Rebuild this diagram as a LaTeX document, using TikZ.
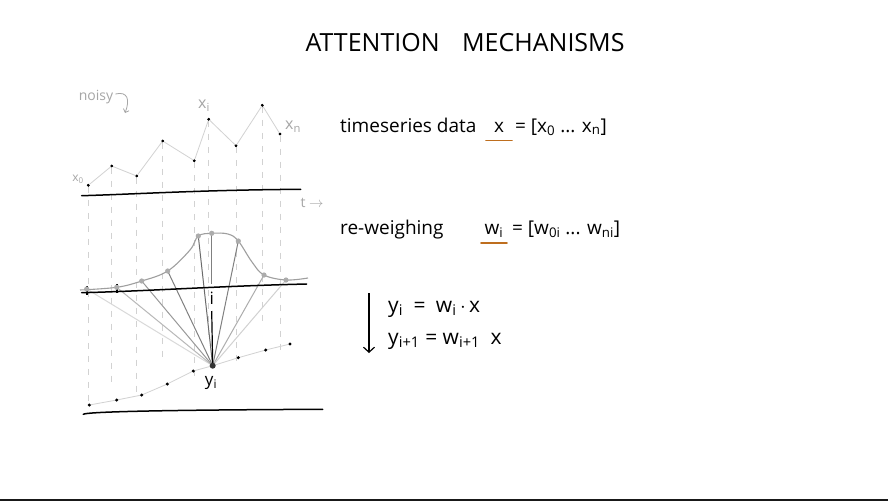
\documentclass[tikz,border=0pt]{standalone}
\usepackage{fontspec}
\setmainfont{Open Sans}
\usetikzlibrary{arrows.meta}
\definecolor{ulorange}{RGB}{190,110,30}
\newcommand{\sbs}[1]{\textsubscript{#1}}
\tikzset{
  dotb/.style={circle,fill=black,inner sep=0pt,minimum size=3.2pt},
  axisline/.style={line width=1.5pt,line cap=round},
  vdash/.style={gray!35,dashed,dash pattern=on 6pt off 7pt,line width=0.6pt},
  serline/.style={gray!35,line width=0.8pt},
  lbl/.style={font=\fontsize{19}{22}\selectfont,inner sep=0pt},
  glbl/.style={font=\fontsize{14}{16}\selectfont,text=gray!70,inner sep=0pt},
}
\begin{document}
\begin{tikzpicture}[x=1pt,y=-1pt]
\useasboundingbox (0,0) rectangle (888,501);
\fill[white] (0,0) rectangle (888,501);
\fill[black!90] (0,498.5) rectangle (888,501);

% title
\node[font=\fontsize{25}{29}\selectfont,inner sep=0pt] (title) at (465,43) {ATTENTION\hspace{0.9em}MECHANISMS};

% top series dots
\foreach \n/\x/\y in {0/88.3/185.3,1/111.7/166,2/136.7/176,3/162.7/141,4/194.3/160.7,5/208.7/119.3,6/236/145.7,7/262.3/105.3,8/280/134}
  \node[dotb,minimum size=2.8pt] (t\n) at (\x,\y) {};
% dashed verticals
\foreach \n in {0,...,8}
  \draw[vdash] (t\n) -- ++(0,222);
% series line
\draw[serline] (t0)--(t1)--(t2)--(t3)--(t4)--(t5)--(t6)--(t7)--(t8);
\foreach \n/\x/\y in {0/88.3/185.3,1/111.7/166,2/136.7/176,3/162.7/141,4/194.3/160.7,5/208.7/119.3,6/236/145.7,7/262.3/105.3,8/280/134}
  \fill (\x,\y) circle (1.4pt);

% top axis
\draw[axisline] (81.7,195.7) .. controls (140,194) and (200,190) .. (300.7,189.3);
\node[glbl] (tlab) at (312,203) {t $\rightarrow$};
\node[glbl,font=\fontsize{12}{14}\selectfont] (x0lab) at (78,179) {x\sbs{0}};
\node[glbl,font=\fontsize{16}{18}\selectfont] (xilab) at (204,106) {x\sbs{i}};
\node[glbl,font=\fontsize{16}{18}\selectfont] (xnlab) at (293,127) {x\sbs{n}};
\node[glbl,font=\fontsize{14}{16}\selectfont] (noisy) at (96,97) {noisy};
\coordinate (narrowend) at (125,113);
\draw[gray!70,line width=0.8pt,-{Straight Barb[length=3pt,width=6pt]}] (noisy.east) ++(2,-3) .. controls (128,91) and (130,100) .. (narrowend);

% bell curve
\draw[gray!75,line width=1.1pt] plot[smooth,tension=0.6] coordinates {(80,290) (116.7,287.3) (141.7,281) (167.7,271) (190,250) (198.3,236) (211.7,233.3) (228,234) (238.3,241) (252,262) (264,275) (286,280) (308,278)};

% weight points
\foreach \n/\x/\y in {0/86.7/289,1/116.7/287.3,2/141.7/281,3/167.7/271,4/198.3/236,5/211.7/233.3,6/238.3/241,7/264/275,8/286/280}
  \coordinate (w\n) at (\x,\y);

% bottom series
\foreach \n/\x/\y in {0/89.3/405,1/116.7/400,2/141.7/395,3/167.3/384,4/193.3/371,5/212.7/365.7,6/238.3/357.7,7/265.7/350,8/290/344}
  \coordinate (b\n) at (\x,\y);
\draw[gray!35,line width=0.8pt] (b0)--(b1)--(b2)--(b3)--(b4)--(b5)--(b6)--(b7)--(b8);

% weight lines to y_i
\foreach \n/\c in {0/15,1/28,2/40,3/50,4/58,6/50,7/32,8/18}
  \draw[black!\c,line width=1pt] (w\n) -- (b5);
\draw[black!50,line width=1pt] (w5) -- (211.7,284);
\node[lbl,font=\fontsize{17}{19}\selectfont] (ilab) at (211.7,298) {i};
\draw[line width=1.2pt] (211.7,311) -- (b5);

% middle axis
\draw[axisline] (81.7,292.7) .. controls (150,291) and (220,286) .. (306.7,284);
\draw[line width=1.2pt] (87,286) -- (87,295);
\draw[line width=1.2pt] (117,284) -- (117,293);

\foreach \n/\x/\y in {0/86.7/289,1/116.7/287.3,2/141.7/281,3/167.7/271,4/198.3/236,5/211.7/233.3,6/238.3/241,7/264/275,8/286/280}
  \fill[gray!65] (\x,\y) circle (2.6pt);

% bottom dots
\foreach \n/\x/\y in {0/89.3/405,1/116.7/400,2/141.7/395,3/167.3/384,4/193.3/371,6/238.3/357.7,7/265.7/350,8/290/344}
  \fill (\x,\y) circle (1.7pt);
\fill[black!80] (b5) circle (3pt);
\node[lbl,font=\fontsize{17}{19}\selectfont] (yilab) at (211,383) {y\sbs{i}};

% bottom axis
\draw[axisline] (83.3,414.3) .. controls (86,412) and (150,410) .. (322.7,409.3);

% right texts
\node[lbl,anchor=base west] (ts) at (340,132) {timeseries data};
\node[lbl,anchor=base] (xv) at (499,132) {x};
\node[lbl,anchor=base west] (xdef) at (515,132) {= [x\sbs{0} ... x\sbs{n}]};
\draw[ulorange,line width=1.8pt,line cap=round] (486,140.5) -- (512,140.5);

\node[lbl,anchor=base west] (rw) at (340,234) {re-weighing};
\node[lbl,anchor=base] (wv) at (494,234) {w\sbs{i}};
\node[lbl,anchor=base west] (wdef) at (512,234) {= [w\sbs{0i} ... w\sbs{ni}]};
\draw[ulorange,line width=1.8pt,line cap=round] (481,243) -- (507,243);

\coordinate (astart) at (369,293);
\coordinate (aend) at (369,353);
\draw[line width=1.2pt,-{Straight Barb[length=5pt,width=11pt]}] (astart) -- (aend);
\node[lbl,font=\fontsize{21}{24}\selectfont,anchor=base west] (eq1) at (388,312) {y\sbs{i}\enspace=\enspace w\sbs{i}$\,\cdot\,$x};
\node[lbl,font=\fontsize{21}{24}\selectfont,anchor=base west] (eq2) at (388,344) {y\sbs{i+1} = w\sbs{i+1}\enspace x};
\end{tikzpicture}
\end{document}
